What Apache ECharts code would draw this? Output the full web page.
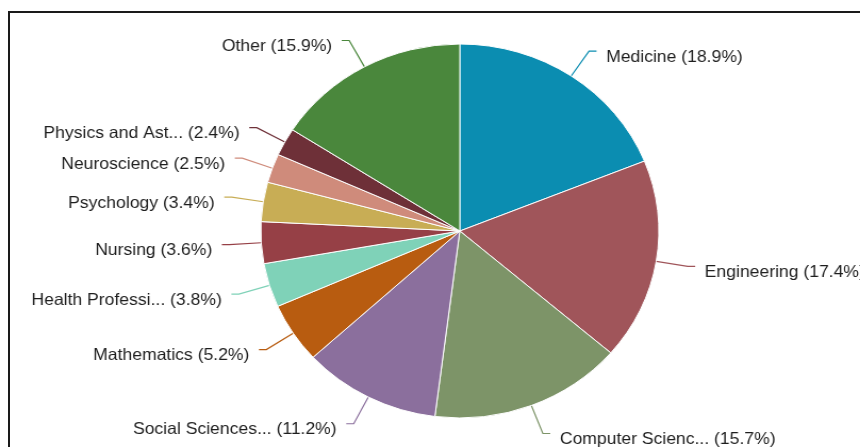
<!DOCTYPE html>
<html><head><meta charset="utf-8">
<script src="https://cdn.jsdelivr.net/npm/echarts@6/dist/echarts.min.js"></script>
<style>
html,body{margin:0;padding:0;background:#fff;overflow:hidden;width:860px;height:447px;}
#chart{position:absolute;left:0;top:0;width:808px;height:447px;transform:scaleX(1.0644);transform-origin:0 0;}
#frame{position:absolute;left:8px;top:11px;width:860px;height:440px;border-top:2px solid #1a1a1a;border-left:2px solid #1a1a1a;pointer-events:none;}
</style></head><body>
<div id="chart"></div><div id="frame"></div>
<script>
const categories = ["Medicine", "Engineering", "Computer Scienc...", "Social Sciences...", "Mathematics",
  "Health Professi...", "Nursing", "Psychology", "Neuroscience", "Physics and Ast...", "Other"];
const shares = [18.9, 17.4, 15.7, 11.2, 5.2, 3.8, 3.6, 3.4, 2.5, 2.4, 15.9];
const sliceColors = ["#0b8db1", "#a0555a", "#7d9468", "#8b6f9d", "#b85c10", "#7fd2b8",
  "#964046", "#c8ad55", "#cf8b7b", "#6e3038", "#4a873c"];

const chart = echarts.init(document.getElementById('chart'));
chart.setOption({
  animation: false,
  backgroundColor: '#fff',
  color: sliceColors,
  series: [{
    type: 'pie',
    left: 0, top: 0, width: 808, height: 480,
    center: [432, 231],
    radius: 187,
    startAngle: 90,
    clockwise: true,
    itemStyle: { borderColor: '#fff', borderWidth: 1 },
    label: {
      show: true,
      position: 'outside',
      formatter: '{b} ({c}%)',
      fontFamily: 'Liberation Sans, Arial, sans-serif',
      fontSize: 16.5,
      color: '#1e1e1e',
      overflow: 'none',
      distanceToLabelLine: 9
    },
    labelLine: { show: true, length: 30, length2: 7, lineStyle: { width: 1.2 } },
    labelLayout: { dy: 6 },
    data: categories.map((n, i) => ({ name: n, value: shares[i] }))
  }]
});
</script>
</body></html>
